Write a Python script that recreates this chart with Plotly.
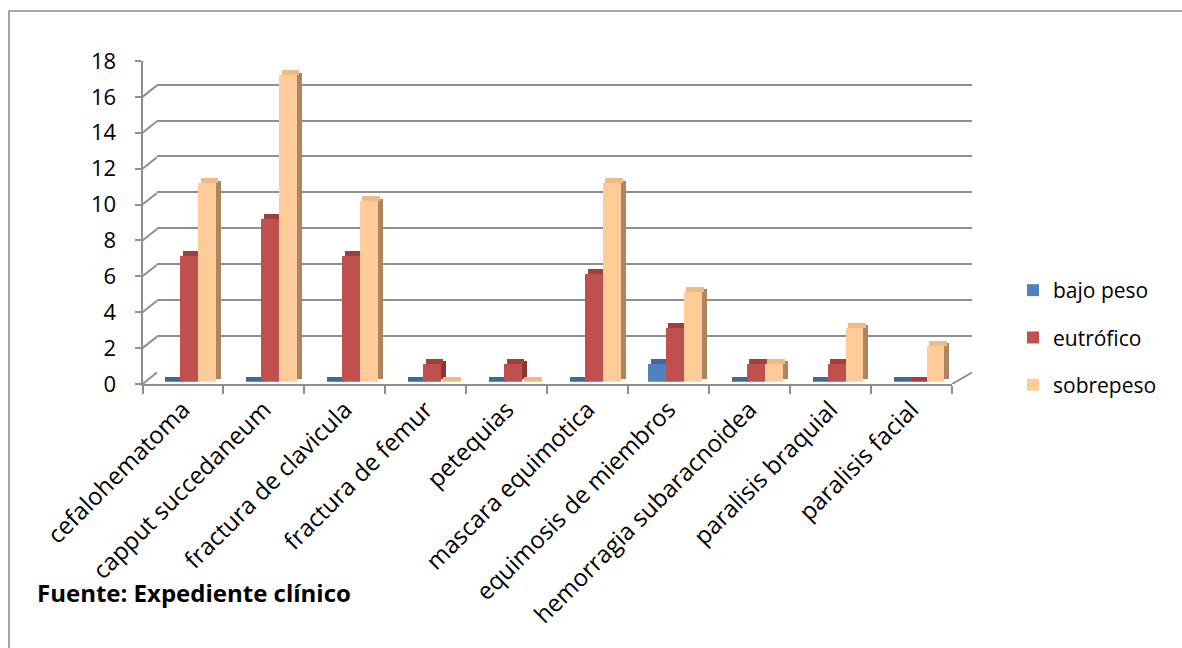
import plotly.graph_objects as go

# ---------------- data ----------------
CATEGORIES = ["cefalohematoma", "capput succedaneum", "fractura de clavicula",
              "fractura de femur", "petequias", "mascara equimotica",
              "equimosis de miembros", "hemorragia subaracnoidea",
              "paralisis braquial", "paralisis facial"]
SERIES = ["bajo peso", "eutrófico", "sobrepeso"]
BAJO_PESO = [0, 0, 0, 0, 0, 0, 1, 0, 0, 0]
EUTROFICO = [7, 9, 7, 1, 1, 6, 3, 1, 1, 0]
SOBREPESO = [11, 17, 10, 0, 0, 11, 5, 1, 3, 2]
Y_TICKS = [0, 2, 4, 6, 8, 10, 12, 14, 16, 18]
SOURCE_TEXT = "Fuente: Expediente clínico"

# ---------------- styling / layout geometry (pixels) ----------------
W, H = 1182, 648
FONT = "Open Sans"

def fx(px):
    return px / W

def fy(py):
    return 1 - py / H

FRONT_L, FRONT_R = 142.5, 952.0
FRONT_Y0, FRONT_YTOP = 384.0, 61.0
BACK_L, BACK_R = 157.0, 972.0
BACK_Y0, BACK_YTOP = 372.5, 48.3
BAR_Y0, BAR_YTOP = 381.7, 56.8
YMAX = 18
EPS = 0.02

CAT_PX = (FRONT_R - FRONT_L) / len(CATEGORIES)
UNIT_PX = (BAR_Y0 - BAR_YTOP) / YMAX
BAR_W_PX = 17.8
BAR_START_PX = -21.0
DEPTH_X_PX = 5.0
DEPTH_Y_PX = 5.0

FRONT_COL = ["#4F81BD", "#C0504D", "#FFCC99"]
TOP_COL = ["#3E689E", "#A03F3C", "#F0BA86"]
SIDE_COL = ["#34588A", "#8A3532", "#AD8660"]
GRID_COL = "#8F8F8F"

values = [BAJO_PESO, EUTROFICO, SOBREPESO]

fig = go.Figure()

# back wall (subplot xy) - dummy invisible trace to create the subplot
fig.add_trace(go.Scatter(x=[0], y=[None], xaxis="x", yaxis="y", mode="markers",
                         showlegend=False, hoverinfo="skip"))

# bars (subplot x2y2)
for i, (name, vals) in enumerate(zip(SERIES, values)):
    x0 = BAR_START_PX + i * BAR_W_PX
    x1 = x0 + BAR_W_PX
    # side face
    fig.add_trace(go.Bar(
        x=CATEGORIES, y=vals, base=(DEPTH_Y_PX / 2) / UNIT_PX,
        offset=x1 / CAT_PX, width=DEPTH_X_PX / CAT_PX,
        marker=dict(color=SIDE_COL[i], line=dict(width=0)),
        xaxis="x2", yaxis="y2", showlegend=False, hoverinfo="skip"))
    # top face
    fig.add_trace(go.Bar(
        x=CATEGORIES, y=[DEPTH_Y_PX / UNIT_PX] * len(vals), base=vals,
        offset=(x0 + DEPTH_X_PX / 2) / CAT_PX, width=BAR_W_PX / CAT_PX,
        marker=dict(color=TOP_COL[i], line=dict(width=0)),
        xaxis="x2", yaxis="y2", showlegend=False, hoverinfo="skip"))
    # front face
    fig.add_trace(go.Bar(
        x=CATEGORIES, y=vals, name=name, legendgroup=name,
        offset=x0 / CAT_PX, width=BAR_W_PX / CAT_PX,
        marker=dict(color=FRONT_COL[i], line=dict(width=0)),
        xaxis="x2", yaxis="y2", showlegend=True))

# front axes (subplot x3y3) - invisible helper
fig.add_trace(go.Scatter(x=CATEGORIES, y=[None] * len(CATEGORIES), xaxis="x3", yaxis="y3",
                         mode="markers", showlegend=False, hoverinfo="skip"))

shapes = []
# figure frame (only left/top visible in reference)
shapes.append(dict(type="rect", xref="paper", yref="paper", x0=fx(9), x1=1.05,
                   y0=-0.05, y1=fy(11), line=dict(color="#8A8A8A", width=1.6)))
# diagonal connectors from front axis ticks to back wall
for v in Y_TICKS:
    shapes.append(dict(type="line", xref="x3 domain", yref="y3",
                       xsizemode="pixel", xanchor=0, x0=0, x1=BACK_L - FRONT_L,
                       ysizemode="pixel", yanchor=v, y0=0, y1=FRONT_Y0 - BACK_Y0,
                       line=dict(color=GRID_COL, width=2)))
# right floor edge
shapes.append(dict(type="line", xref="x3 domain", yref="y3",
                   xsizemode="pixel", xanchor=1, x0=0, x1=BACK_R - FRONT_R,
                   ysizemode="pixel", yanchor=0, y0=0, y1=FRONT_Y0 - BACK_Y0,
                   line=dict(color=GRID_COL, width=2)))

fig.update_layout(
    width=W, height=H,
    margin=dict(l=0, r=0, t=0, b=0, autoexpand=False),
    paper_bgcolor="white", plot_bgcolor="rgba(0,0,0,0)",
    barmode="overlay", bargap=0,
    font=dict(family=FONT, size=20, color="black"),
    showlegend=True,
    legend=dict(x=fx(1013), y=fy(270), xanchor="left", yanchor="top",
                font=dict(family=FONT, size=21, color="black"),
                tracegroupgap=17, bgcolor="rgba(0,0,0,0)", traceorder="grouped"),
    shapes=shapes,
    xaxis=dict(domain=[fx(BACK_L), fx(BACK_R)], range=[0, 1], visible=False,
               anchor="y", fixedrange=True),
    yaxis=dict(domain=[fy(BACK_Y0), fy(BACK_YTOP)], range=[-EPS, YMAX + EPS], anchor="x",
               tickvals=Y_TICKS, showticklabels=False, ticks="", showgrid=True,
               gridcolor=GRID_COL, gridwidth=2, zeroline=False, showline=False),
    xaxis2=dict(domain=[fx(FRONT_L), fx(FRONT_R)], type="category",
                categoryarray=CATEGORIES, range=[-0.5, len(CATEGORIES) - 0.5],
                visible=False, anchor="y2"),
    yaxis2=dict(domain=[fy(BAR_Y0), fy(BAR_YTOP)], range=[0, YMAX], visible=False,
                anchor="x2"),
    xaxis3=dict(domain=[fx(FRONT_L), fx(FRONT_R)], type="category",
                categoryarray=CATEGORIES, range=[-0.5, len(CATEGORIES) - 0.5],
                anchor="y3", showline=True, linecolor=GRID_COL, linewidth=2,
                ticks="outside", tickson="boundaries", ticklen=8, tickcolor=GRID_COL,
                tickwidth=2, tickangle=-45, showgrid=False, zeroline=False,
                tickfont=dict(family=FONT, size=24, color="black")),
    yaxis3=dict(domain=[fy(FRONT_Y0), fy(FRONT_YTOP)], range=[0, YMAX], anchor="x3",
                tickvals=Y_TICKS, showline=True, linecolor=GRID_COL, linewidth=2,
                ticks="outside", ticklen=6, tickcolor=GRID_COL, tickwidth=2,
                ticklabelstandoff=14, showgrid=False, zeroline=False,
                tickfont=dict(family=FONT, size=22, color="black")),
    annotations=[dict(text="<b>" + SOURCE_TEXT + "</b>", xref="paper", yref="paper",
                      x=fx(35), y=fy(592), xanchor="left", yanchor="middle",
                      showarrow=False, font=dict(family=FONT, size=24, color="black"))],
)

fig.write_html("out.html", config={"displayModeBar": False},
               post_script="document.body.style.margin='0px';document.body.style.overflow='hidden';")
